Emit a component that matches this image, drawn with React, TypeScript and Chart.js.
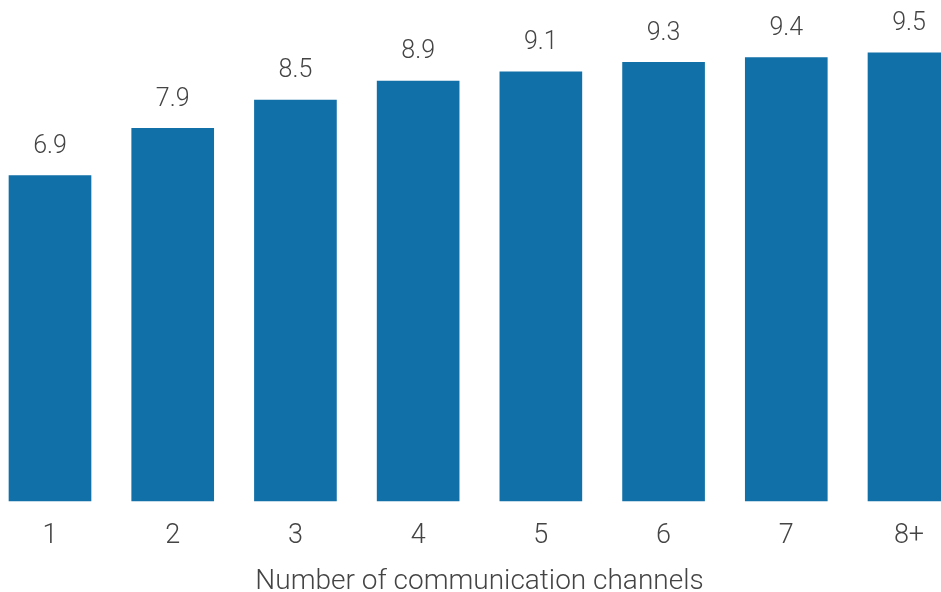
import React, { useEffect, useRef } from "react";
import { Chart, registerables } from "chart.js";

Chart.register(...registerables);

const categories = ["1", "2", "3", "4", "5", "6", "7", "8+"];
const values = [6.9, 7.9, 8.5, 8.9, 9.1, 9.3, 9.4, 9.5];
const axisTitle = "Number of communication channels";

const FONT = "Roboto, 'Open Sans', sans-serif";
const TEXT = "#444444";
const BAR = "#1170a8";

const valueLabels = {
  id: "valueLabels",
  afterDatasetsDraw(chart: any) {
    const ctx = chart.ctx;
    const meta = chart.getDatasetMeta(0);
    ctx.save();
    ctx.font = `300 25px ${FONT}`;
    ctx.fillStyle = TEXT;
    ctx.textAlign = "center";
    ctx.textBaseline = "middle";
    meta.data.forEach((el: any, i: number) => {
      ctx.fillText(values[i].toFixed(1), el.x, el.y - 29);
    });
    ctx.restore();
  },
};

export default function App() {
  const ref = useRef<HTMLCanvasElement>(null);
  useEffect(() => {
    document.body.style.margin = "0";
    const chart = new Chart(ref.current!, {
      type: "bar",
      data: {
        labels: categories,
        datasets: [
          {
            data: values,
            backgroundColor: BAR,
            barThickness: 82,
            clip: false as any,
          },
        ],
      },
      options: {
        responsive: false,
        animation: false,
        layout: { padding: { left: 50, right: 32, top: 1, bottom: 0 } },
        plugins: { legend: { display: false }, tooltip: { enabled: false } },
        scales: {
          x: {
            offset: false,
            grid: { display: false, drawTicks: false },
            border: { display: false },
            afterFit: (scale: any) => {
              scale.paddingLeft = 0;
              scale.paddingRight = 0;
            },
            ticks: {
              color: TEXT,
              font: { family: FONT, size: 27, weight: "300" as any, lineHeight: 1 },
              padding: 22,
              maxRotation: 0,
              autoSkip: false,
            },
            title: {
              display: true,
              text: axisTitle,
              color: TEXT,
              font: { family: FONT, size: 28, weight: "300" as any, lineHeight: 0.72 },
              padding: { top: 0, bottom: 0 },
            },
          },
          y: { display: false, min: 0, max: 10.6 },
        },
      },
      plugins: [valueLabels],
    });
    return () => chart.destroy();
  }, []);
  return (
    <div style={{ width: 941, height: 592 }}>
      <canvas ref={ref} width={941} height={592} />
    </div>
  );
}
